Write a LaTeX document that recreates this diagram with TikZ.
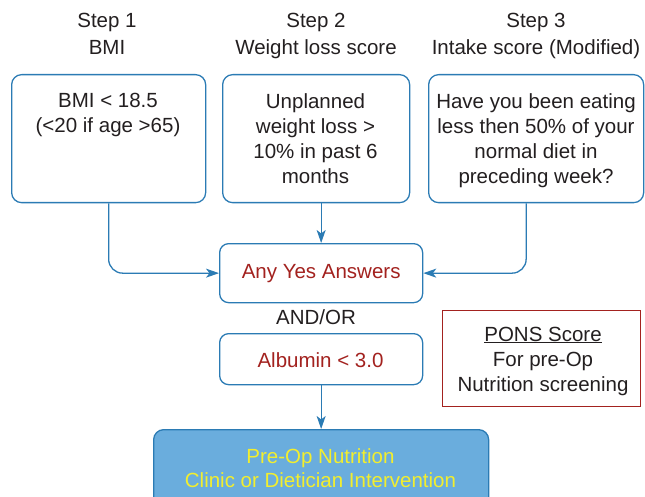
\documentclass[tikz,border=0pt]{standalone}
\usepackage{fontspec}
\setmainfont{Liberation Sans}
\usetikzlibrary{arrows.meta}

\definecolor{flowblue}{HTML}{2B7BB4}
\definecolor{flowred}{HTML}{A3221F}
\definecolor{pontext}{HTML}{231F20}
\definecolor{finalfill}{HTML}{6AADDD}
\definecolor{finaltext}{HTML}{F2EE2E}

\begin{document}
\begin{tikzpicture}[
  x=1pt, y=-1pt,
  font=\fontsize{20.5}{25}\selectfont,
  text=pontext,
  frame/.style={draw=flowblue, line width=1.3pt, inner sep=0pt,
                anchor=north west, fill=white},
  stepbox/.style={frame, rounded corners=10pt},
  smallbox/.style={frame, rounded corners=9pt},
  boxtext/.style={inner sep=0pt, align=center, anchor=north},
  header/.style={inner sep=0pt, align=center, anchor=base,
                 font=\fontsize{20.5}{27}\selectfont},
  conn/.style={draw=flowblue, line width=1.3pt,
               -{Stealth[length=13pt, width=9pt, inset=3.5pt]}},
]
\useasboundingbox (0,0) rectangle (645,497);
\clip (0,0) rectangle (645,497);

% column headings (anchored on the baseline of the second line)
\node[header] (h1) at (107,55) {Step 1\\BMI};
\node[header] (h2) at (316,55) {Step 2\\Weight loss score};
\node[header] (h3) at (536,55) {Step 3\\Intake score (Modified)};

% the three screening questions
\node[stepbox, minimum width=194pt, minimum height=128pt] (b1) at (11,74) {};
\node[stepbox, minimum width=187pt, minimum height=128pt] (b2) at (222,74) {};
\node[stepbox, minimum width=215pt, minimum height=128pt] (b3) at (428,74) {};

\node[boxtext] (t1) at (108,93) {BMI < 18.5\\(<20 if age >65)};
\node[boxtext] (t2) at (315.5,93) {Unplanned\\weight loss >\\10\% in past 6\\months};
\node[boxtext] (t3) at (536,93) {Have you been eating\\less then 50\% of your\\normal diet in\\preceding week?};

% combining step
\node[smallbox, minimum width=203pt, minimum height=59pt] (yes) at (219,243) {};
\node[text=flowred, inner sep=0pt] (yestext) at (yes.center) {Any Yes Answers};

\node[inner sep=0pt] (andor) at (316,317) {AND/OR};

\node[smallbox, minimum width=203pt, minimum height=51pt] (alb) at (219,333) {};
\node[text=flowred, inner sep=0pt] (albtext) at (320.5,360) {Albumin < 3.0};

% outcome
\node[stepbox, fill=finalfill, minimum width=335pt, minimum height=80pt] (final) at (153,429) {};
\node[text=finaltext, inner sep=0pt, align=center, anchor=base,
      font=\fontsize{20.5}{24}\selectfont] (finaltext) at (320.5,487)
      {Pre-Op Nutrition\\Clinic or Dietician Intervention};

% legend
\node[draw=flowred, line width=1pt, inner sep=0pt, anchor=north west,
      minimum width=198pt, minimum height=96pt] (pons) at (442,310) {};
\node[inner sep=0pt, align=center, anchor=base] (ponstext) at (543,391)
      {\underline{PONS Score}\\For pre-Op\\Nutrition screening};

% connectors
\coordinate (b2out) at (b2.south -| yes.north);
\coordinate (b3out) at ([xshift=-10pt]b3.south);
\draw[conn, rounded corners=14pt] (b1.south) |- (yes.west);
\draw[conn] (b2out) -- (yes.north);
\draw[conn, rounded corners=14pt] (b3out) |- (yes.east);
\draw[conn] (alb.south) -- (final.north);
\end{tikzpicture}
\end{document}
